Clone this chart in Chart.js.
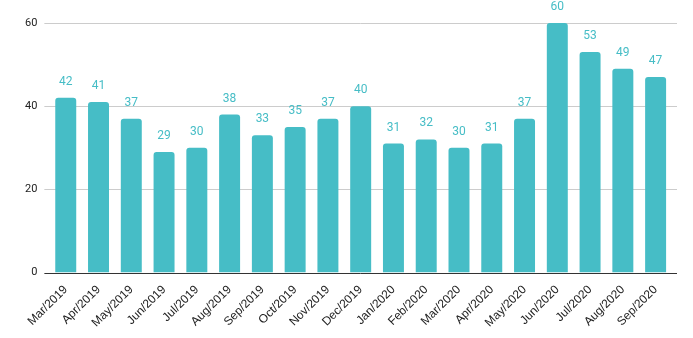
<!DOCTYPE html>
<html>
<head>
<meta charset="utf-8">
<script src="https://cdn.jsdelivr.net/npm/chart.js@4"></script>
<style>
  body { margin: 0; background: #fff; }
  #wrap { width: 693px; height: 338px; }
</style>
</head>
<body>
<div id="wrap"><canvas id="barChart" width="693" height="338"></canvas></div>
<script>
const months = ['Mar/2019', 'Apr/2019', 'May/2019', 'Jun/2019', 'Jul/2019', 'Aug/2019', 'Sep/2019',
    'Oct/2019', 'Nov/2019', 'Dec/2019', 'Jan/2020', 'Feb/2020', 'Mar/2020', 'Apr/2020',
    'May/2020', 'Jun/2020', 'Jul/2020', 'Aug/2020', 'Sep/2020'];
const counts = [42, 41, 37, 29, 30, 38, 33, 35, 37, 40, 31, 32, 30, 31, 37, 60, 53, 49, 47];
const yTicks = [0, 20, 40, 60];

const barColor = '#46bdc6';

// horizontal grid lines, a bit wider than the bars area
const gridLines = {
    id: 'gridLines',
    beforeDatasetsDraw(chart) {
        const ctx = chart.ctx;
        const area = chart.chartArea;
        const y = chart.scales.y;
        ctx.save();
        ctx.lineWidth = 1;
        yTicks.forEach(v => {
            const py = Math.round(y.getPixelForValue(v)) + 0.5;
            ctx.strokeStyle = v === 0 ? '#333333' : '#cccccc';
            ctx.beginPath();
            ctx.moveTo(area.left - 5, py);
            ctx.lineTo(area.right + 5, py);
            ctx.stroke();
        });
        ctx.restore();
    }
};

// draws the value above each bar
const valueLabels = {
    id: 'valueLabels',
    afterDatasetsDraw(chart) {
        const ctx = chart.ctx;
        const meta = chart.getDatasetMeta(0);
        ctx.save();
        ctx.font = '12px Roboto, sans-serif';
        ctx.fillStyle = barColor;
        ctx.textAlign = 'center';
        ctx.textBaseline = 'bottom';
        meta.data.forEach((bar, i) => {
            ctx.fillText(counts[i], bar.x, bar.y - 10);
        });
        ctx.restore();
    }
};

const ctx = document.getElementById('barChart').getContext('2d');
const barChart = new Chart(ctx, {
    type: 'bar',
    data: {
        labels: months,
        datasets: [{
            label: 'Count',
            data: counts,
            backgroundColor: barColor,
            borderRadius: { topLeft: 3, topRight: 3 },
            borderSkipped: 'bottom',
            categoryPercentage: 0.64,
            barPercentage: 1.0
        }]
    },
    options: {
        responsive: false,
        animation: false,
        layout: {
            padding: { top: 23, right: 21, left: 13, bottom: 6 }
        },
        plugins: {
            legend: { display: false },
            tooltip: { enabled: false }
        },
        scales: {
            x: {
                grid: { display: false },
                border: { display: false },
                ticks: {
                    color: '#222222',
                    font: { family: 'Liberation Sans, Arial, sans-serif', size: 12 },
                    minRotation: 45,
                    maxRotation: 45,
                    padding: 2,
                    autoSkip: false
                }
            },
            y: {
                min: 0,
                max: 60,
                afterBuildTicks: axis => {
                    axis.ticks = yTicks.map(v => ({ value: v }));
                },
                grid: { display: false, drawTicks: false },
                border: { display: false },
                ticks: {
                    color: '#222222',
                    font: { family: 'Roboto, sans-serif', size: 11 },
                    padding: 12
                }
            }
        }
    },
    plugins: [gridLines, valueLabels]
});
</script>
</body>
</html>
